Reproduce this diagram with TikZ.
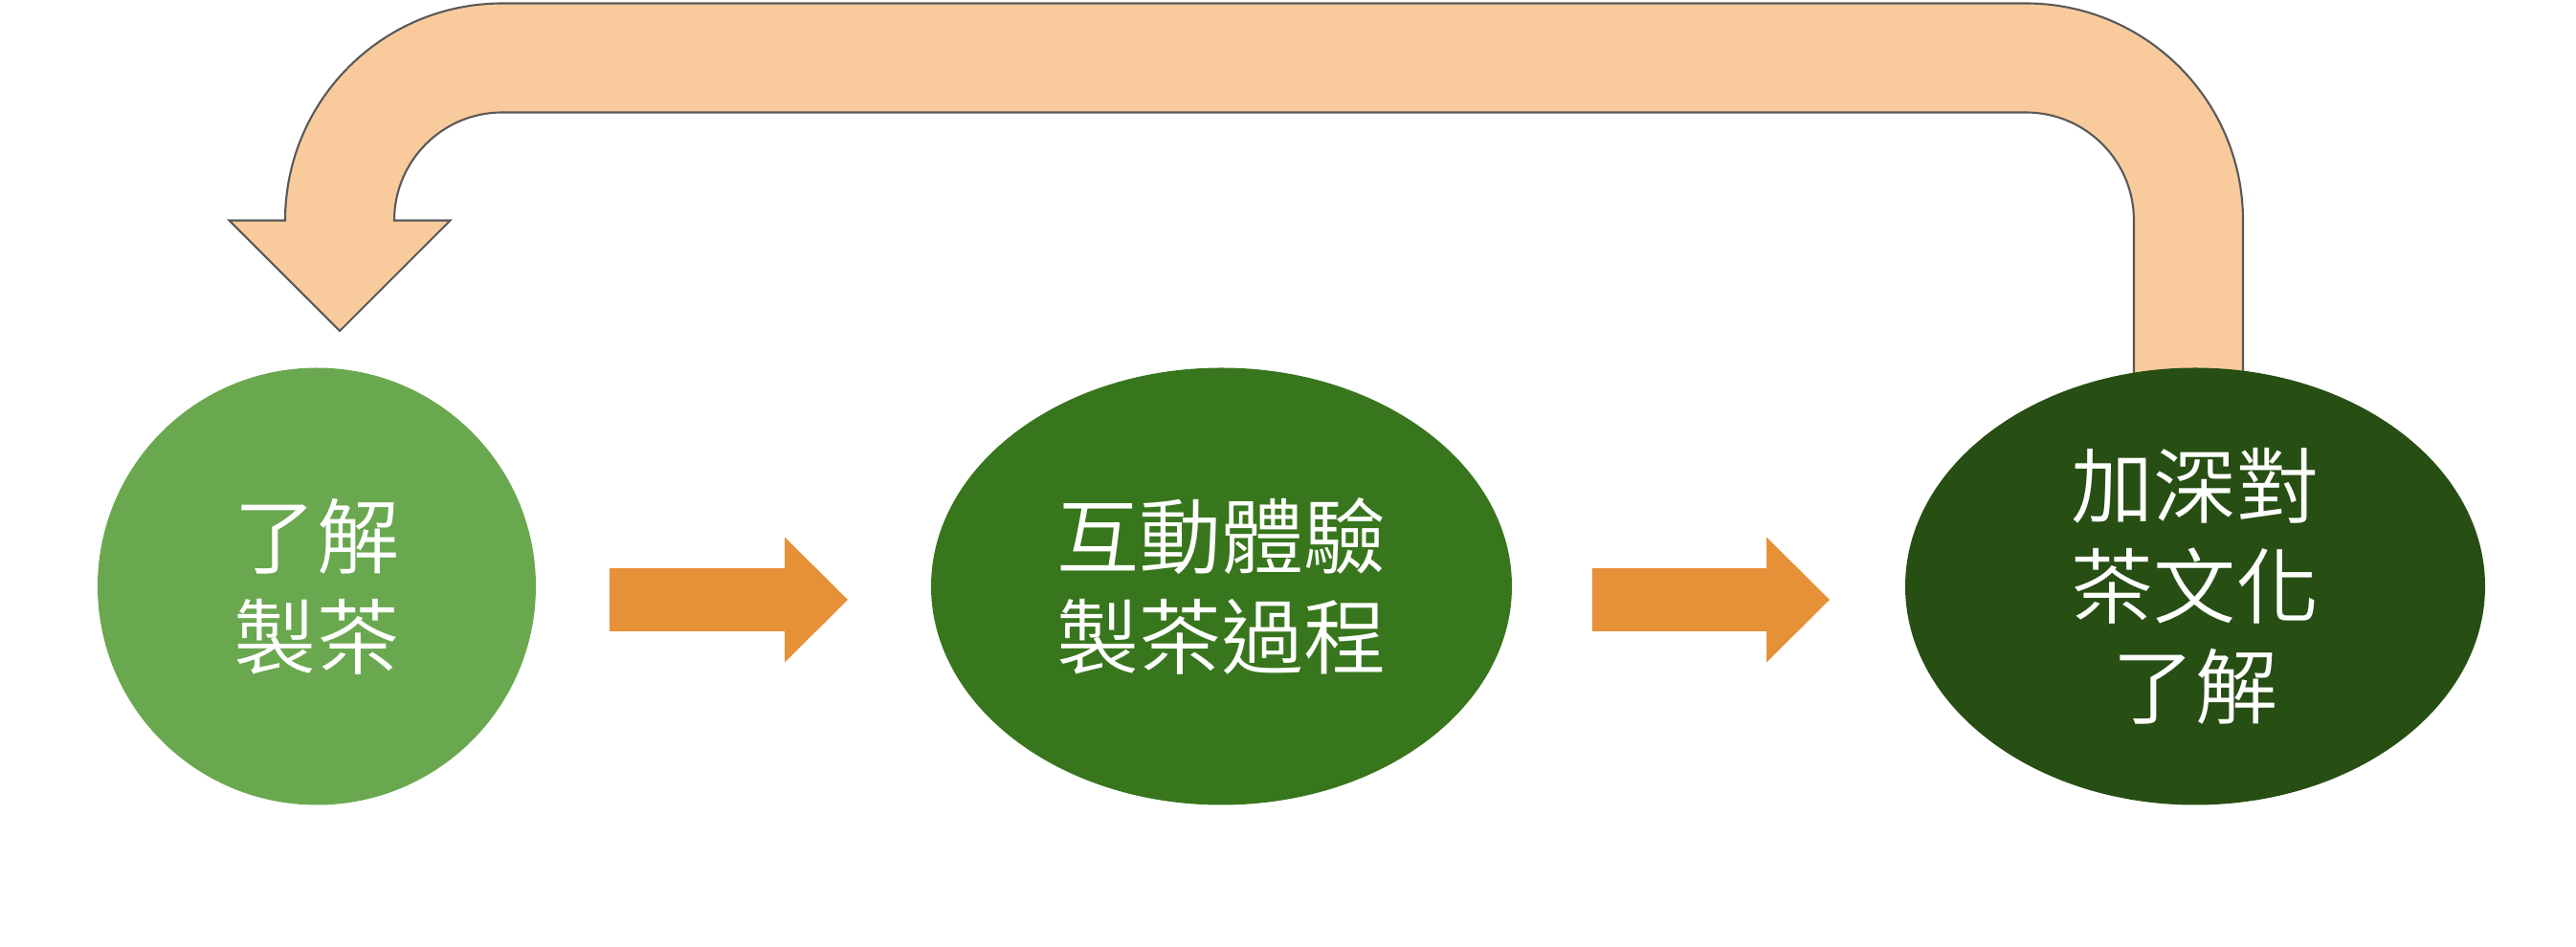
\documentclass[tikz,border=0pt]{standalone}
\usepackage{fontspec}
\usepackage{xcolor}
\usetikzlibrary{shapes.geometric, arrows.meta, positioning, backgrounds, calc}
\IfFontExistsTF{Noto Sans CJK TC DemiLight}
  {\newfontfamily\cjk{Noto Sans CJK TC DemiLight}}
  {\IfFontExistsTF{Noto Sans CJK TC Light}
    {\newfontfamily\cjk{Noto Sans CJK TC Light}}
    {\newfontfamily\cjk{Noto Sans CJK TC}}}
\definecolor{learn}{HTML}{6AA84F}
\definecolor{practice}{HTML}{38761D}
\definecolor{culture}{HTML}{274E13}
\definecolor{flow}{HTML}{E69138}
\definecolor{feedback}{HTML}{F9CB9C}
\definecolor{outline}{HTML}{595959}

\begin{document}
\begin{tikzpicture}[
    stage/.style={
        ellipse, draw=none, inner sep=0pt, outer sep=0pt,
        minimum height=4.57cm, align=center,
        text=white, font=\cjk\fontsize{24.5pt}{29.8pt}\selectfont
    },
    flowarrow/.style={
        -{Triangle[length=0.66cm, width=1.31cm, line width=0pt]},
        line width=0.66cm, draw=flow
    },
    backarrow/.style={
        fill=feedback, draw=outline, line width=0.6pt, line join=miter
    }
]
\useasboundingbox (0,0) rectangle (26.92,9.90);

% Main components
\node[stage, fill=learn, minimum width=4.58cm] (learn) at (3.31, 3.77) {了解\\製茶};
\node[stage, fill=practice, minimum width=6.07cm, right=4.13cm of learn] (practice) {互動體驗\\製茶過程};
\node[stage, fill=culture, minimum width=6.06cm, right=4.11cm of practice] (culture) {加深對\\茶文化\\了解};

% Arrows
\draw[flowarrow] ([shift={(0.77,-0.14)}]learn.east) -- ([shift={(-0.87,-0.14)}]practice.west);
\draw[flowarrow] ([shift={(0.84,-0.14)}]practice.east) -- ([shift={(-0.79,-0.14)}]culture.west);

% Feedback loop
\coordinate (loopfrom) at ([shift={(-0.07,-0.36)}]culture.north);
\coordinate (loopto) at ([shift={(0.24,0.385)}]learn.north);
\begin{scope}[on background layer]
\draw[backarrow] ([xshift=0.57cm]loopfrom) -- ++(0,1.90)
    arc[start angle=0, end angle=90, radius=2.27] -- ++(-15.92,0)
    arc[start angle=90, end angle=180, radius=2.27] -- ++(-0.585,0)
    -- (loopto) -- ++(1.155,1.155) -- ++(-0.585,0)
    arc[start angle=180, end angle=90, radius=1.13] -- ++(15.92,0)
    arc[start angle=90, end angle=0, radius=1.13] -- ++(0,-1.90) -- cycle;
\end{scope}

\end{tikzpicture}
\end{document}
